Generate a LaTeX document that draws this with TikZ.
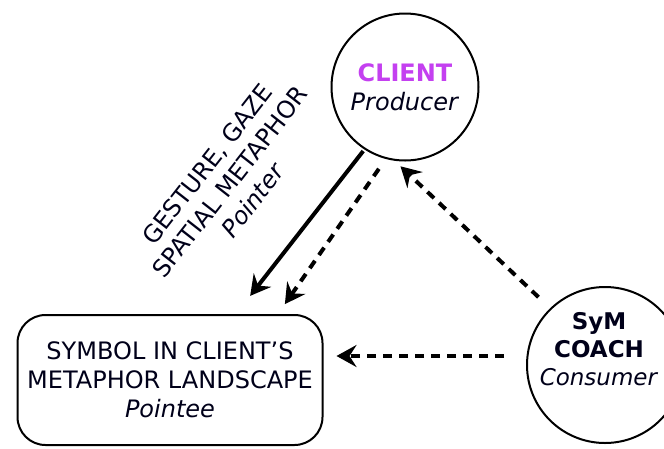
\documentclass[tikz,border=0pt]{standalone}
\usepackage{fontspec}
\setmainfont{DejaVu Sans}
\usetikzlibrary{arrows.meta,calc}
\definecolor{clientpurple}{RGB}{196,64,240}
\begin{document}
\begin{tikzpicture}[x=1pt,y=-1pt,
  every node/.style={font=\fontsize{24}{29}\selectfont, align=center, text=black!90!blue},
  actor/.style={draw=black, circle, line width=2pt, inner sep=0pt},
  pointeebox/.style={draw=black, rounded corners=28pt, line width=2pt, minimum width=305pt, minimum height=130pt},
  arr/.style={-{Stealth[length=20pt,width=22pt,inset=7pt]}, line width=4pt},
  dasharr/.style={arr, dash pattern=on 9pt off 7pt},
]
\useasboundingbox (0,0) rectangle (664,448);
\node[actor, minimum size=147pt] (client) at (405,87) {\textbf{\color{clientpurple}CLIENT}\\\textit{Producer}};
\node[actor, minimum size=156pt, label={[yshift=16pt, xshift=-6pt, font=\fontsize{23}{28}\selectfont]center:{\textbf{SyM}\\\textbf{COACH}\\\textit{Consumer}}}] (coach) at (605,365) {};
\node[pointeebox] (pointee) at (170,380) {SYMBOL IN CLIENT’S\\METAPHOR LANDSCAPE\\\textit{Pointee}};
\node[rotate=52] (pointer) at (230,182) {GESTURE, GAZE\\SPATIAL METAPHOR\\\textit{Pointer}};
\draw[arr, shorten <=2pt, shorten >=23pt] (client.237) -- ([xshift=66pt]pointee.north);
\draw[dasharr, shorten <=12pt, shorten >=12pt] (client.255) -- ([xshift=108pt]pointee.north);
\draw[dasharr, shorten <=16pt, shorten >=8pt] (coach.134) -- (client.262);
\draw[dasharr, shorten <=22pt, shorten >=13pt] ([yshift=9pt]coach.west) -- ([yshift=24pt]pointee.east);
\end{tikzpicture}
\end{document}
